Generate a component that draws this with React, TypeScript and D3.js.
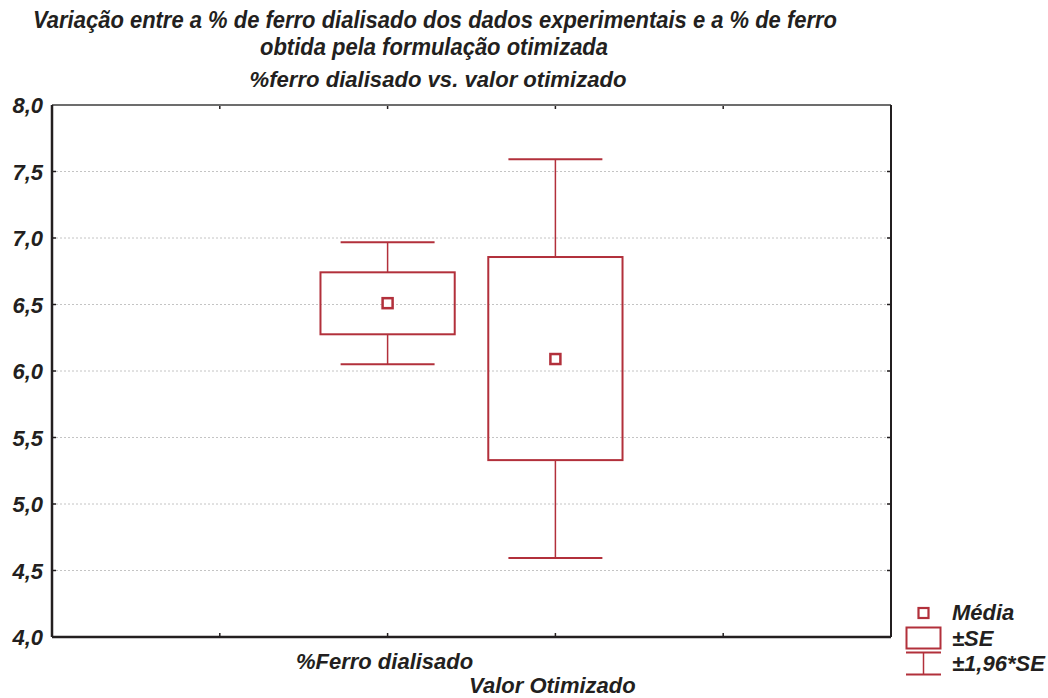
import React from 'react';
import * as d3 from 'd3';

// values (mean, ±SE box, ±1.96*SE whiskers)
const categories = ['%Ferro dialisado', 'Valor Otimizado'];
const slotIndex = [2, 3];
const means = [6.51, 6.09];
const seLow = [6.276, 5.33];
const seHigh = [6.742, 6.857];
const ciLow = [6.05, 4.594];
const ciHigh = [6.968, 7.592];

const yTicks = [4.0, 4.5, 5.0, 5.5, 6.0, 6.5, 7.0, 7.5, 8.0];
const gridTicks = [4.5, 5.0, 5.5, 6.0, 6.5, 7.0, 7.5];
const xTickSlots = [1, 2, 3, 4];

const titleLines = [
    'Variação entre a % de ferro dialisado dos dados experimentais e a % de ferro',
    'obtida pela formulação otimizada',
];
const subtitle = '%ferro dialisado vs. valor otimizado';
const legendLabels = ['Média', '±SE', '±1,96*SE'];

const RED = '#b2303b';
const FONT = '"Liberation Sans", Arial, sans-serif';

const W = 1048;
const H = 698;
const plot = { left: 52, right: 891, top: 105, bottom: 637 };

const App: React.FC = () => {
    const x = d3.scaleLinear().domain([0, 5]).range([plot.left, plot.right]);
    const y = d3.scaleLinear().domain([4, 8]).range([plot.bottom, plot.top]);
    const slotW = x(1) - x(0);
    const boxW = slotW * 0.8;
    const capW = slotW * 0.56;
    const fmt = (v: number) => v.toFixed(1).replace('.', ',');

    const textStyle = {
        fontFamily: FONT,
        fontWeight: 'bold' as const,
        fontStyle: 'italic' as const,
        fill: '#231f20',
    };

    return (
        <div style={{ position: 'absolute', left: 0, top: 0 }}>
            <svg width={W} height={H} style={{ display: 'block', background: '#fff' }}>
                {/* titles (first two lines are a condensed face in the original) */}
                <text x={435} y={28} textAnchor="middle" fontSize={23} textLength={804}
                    lengthAdjust="spacingAndGlyphs" {...textStyle}>{titleLines[0]}</text>
                <text x={434} y={55} textAnchor="middle" fontSize={23} textLength={348}
                    lengthAdjust="spacingAndGlyphs" {...textStyle}>{titleLines[1]}</text>
                <text x={438} y={87} textAnchor="middle" fontSize={22} textLength={377}
                    lengthAdjust="spacingAndGlyphs" {...textStyle}>{subtitle}</text>

                {/* grid */}
                {gridTicks.map(t => (
                    <line key={'g' + t} x1={plot.left} x2={plot.right} y1={y(t)} y2={y(t)}
                        stroke="#c4c4c4" strokeWidth={1} strokeDasharray="2,2" />
                ))}

                {/* y ticks (inward on both sides) */}
                {gridTicks.map(t => (
                    <g key={'t' + t}>
                        <line x1={plot.left} x2={plot.left + 4} y1={y(t)} y2={y(t)} stroke="#231f20" strokeWidth={1.5} />
                        <line x1={plot.right - 4} x2={plot.right} y1={y(t)} y2={y(t)} stroke="#231f20" strokeWidth={1.5} />
                    </g>
                ))}
                {xTickSlots.map(s => (
                    <g key={'x' + s}>
                        <line x1={x(s)} x2={x(s)} y1={plot.bottom} y2={plot.bottom - 4} stroke="#231f20" strokeWidth={1.5} />
                        <line x1={x(s)} x2={x(s)} y1={plot.top} y2={plot.top + 4} stroke="#231f20" strokeWidth={1.5} />
                    </g>
                ))}

                {/* frame */}
                <line x1={plot.left} x2={plot.right} y1={plot.top} y2={plot.top} stroke="#6d6d6d" strokeWidth={2} />
                <line x1={plot.right} x2={plot.right} y1={plot.top} y2={plot.bottom} stroke="#231f20" strokeWidth={2} />
                <line x1={plot.left} x2={plot.left} y1={plot.top} y2={plot.bottom} stroke="#231f20" strokeWidth={2.5} />
                <line x1={plot.left} x2={plot.right} y1={plot.bottom} y2={plot.bottom} stroke="#231f20" strokeWidth={2.5} />

                {/* y labels */}
                {yTicks.map(t => (
                    <text key={'l' + t} x={43} y={y(t) + 8} textAnchor="end" fontSize={22} {...textStyle}>{fmt(t)}</text>
                ))}

                {/* x labels, staggered */}
                {categories.map((c, i) => (
                    <text key={c} x={x(slotIndex[i]) - 3} y={i === 0 ? 669 : 693} textAnchor="middle"
                        fontSize={22} {...textStyle}>{c}</text>
                ))}

                {/* boxes */}
                {categories.map((c, i) => {
                    const cx = x(slotIndex[i]);
                    return (
                        <g key={'b' + c} stroke={RED} fill="none">
                            <line x1={cx} x2={cx} y1={y(ciHigh[i])} y2={y(seHigh[i])} strokeWidth={1.5} />
                            <line x1={cx} x2={cx} y1={y(seLow[i])} y2={y(ciLow[i])} strokeWidth={1.5} />
                            <line x1={cx - capW / 2} x2={cx + capW / 2} y1={y(ciHigh[i])} y2={y(ciHigh[i])} strokeWidth={2} />
                            <line x1={cx - capW / 2} x2={cx + capW / 2} y1={y(ciLow[i])} y2={y(ciLow[i])} strokeWidth={2} />
                            <rect x={cx - boxW / 2} y={y(seHigh[i])} width={boxW}
                                height={y(seLow[i]) - y(seHigh[i])} strokeWidth={2} />
                            <rect x={cx - 5} y={y(means[i]) - 5} width={10} height={10} strokeWidth={2.5} fill="#fff" />
                        </g>
                    );
                })}

                {/* legend */}
                <g stroke={RED} fill="none">
                    <rect x={918.5} y={608} width={10} height={10} strokeWidth={2.2} />
                    <rect x={906.5} y={627.5} width={34} height={21} strokeWidth={2} />
                    <line x1={906} x2={941} y1={652.5} y2={652.5} strokeWidth={1.8} />
                    <line x1={906} x2={941} y1={674.5} y2={674.5} strokeWidth={1.8} />
                    <line x1={923.5} x2={923.5} y1={652.5} y2={674.5} strokeWidth={1.5} />
                </g>
                {legendLabels.map((l, i) => (
                    <text key={l} x={952} y={[620, 646, 671][i]} fontSize={22} {...textStyle}>{l}</text>
                ))}
            </svg>
        </div>
    );
};

export default App;
